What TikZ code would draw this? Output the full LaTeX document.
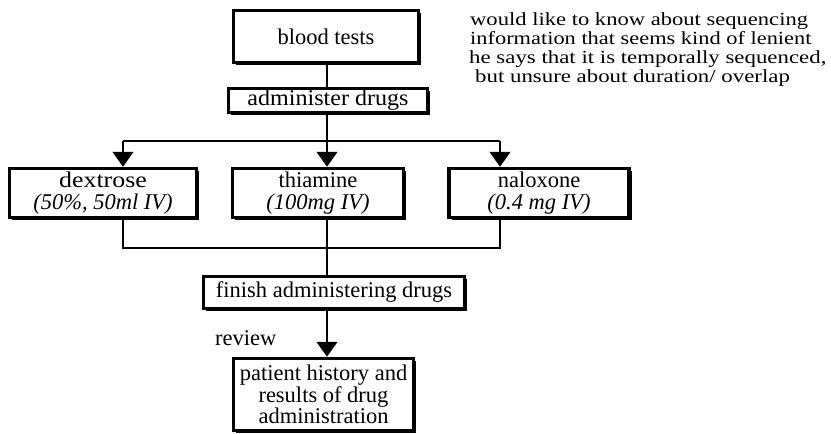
\documentclass[tikz,border=0pt]{standalone}
\usepackage{fontspec}
\usepackage{graphicx}
\setmainfont{Liberation Serif}
\usetikzlibrary{arrows.meta,shadows}
\begin{document}
\begin{tikzpicture}[x=1pt,y=-1pt,
  box/.style={draw,line width=3.5pt,fill=white,inner sep=0pt,align=center,
    font=\fontsize{22.5}{21.5}\selectfont,
    drop shadow={shadow xshift=2.5pt,shadow yshift=-2.5pt,fill=black,opacity=1}},
  conn/.style={line width=1.4pt},
  arr/.style={conn,-{Triangle[width=21pt,length=15pt]}},
  note/.style={anchor=base west,inner sep=0pt,font=\fontsize{18.5}{19}\selectfont},
]
\useasboundingbox (0,0) rectangle (831,434);
% boxes
\node[box,minimum width=185pt,minimum height=52pt] (blood) at (326,36.5) {blood tests};
\node[box,minimum width=199pt,minimum height=24pt] (admin) at (328,100.5) {\scalebox{1.07}[1]{administer drugs}};
\node[box,minimum width=187pt,minimum height=49pt] (dex) at (103,193) {\scalebox{1.15}[1]{dextrose}\\\textit{(50\%, 50ml IV)}};
\node[box,minimum width=171pt,minimum height=49pt] (thi) at (318,193) {thiamine\\\textit{(100mg IV)}};
\node[box,minimum width=180pt,minimum height=49pt] (nal) at (539,193) {naloxone\\\textit{(0.4 mg IV)}};
\node[box,minimum width=261pt,minimum height=32pt] (fin) at (334,292.5) {finish administering drugs};
\node[box,minimum width=180pt,minimum height=72pt] (pat) at (323.5,394.5) {patient history and\\results of drug\\administration};
% labels
\node[anchor=base west,inner sep=0pt,font=\fontsize{22.5}{21.5}\selectfont] (rev) at (215,345) {review};
\node[note] (n1) at (470,25) {\scalebox{1.22}[1]{would like to know about sequencing}};
\node[note] (n2) at (470,44) {\scalebox{1.21}[1]{information that seems kind of lenient}};
\node[note] (n3) at (469,63) {\scalebox{1.235}[1]{he says that it is temporally sequenced,}};
\node[note] (n4) at (475,82) {\scalebox{1.235}[1]{but unsure about duration/ overlap}};
% connectors
\coordinate (sp) at (327,141);
\coordinate (la) at (123,141);
\coordinate (ra) at (500,141);
\coordinate (lb) at (123,248);
\coordinate (rb) at (500,248);
\draw[conn] (blood.south -| sp) -- (admin.north -| sp);
\draw[conn] (admin.south -| sp) -- (sp);
\draw[conn] (la) -- (ra);
\draw[arr] (la) -- (la |- dex.north);
\draw[arr] (sp) -- (sp |- thi.north);
\draw[arr] (ra) -- (ra |- nal.north);
\draw[conn] (la |- dex.south) -- (lb) -- (rb) -- (ra |- nal.south);
\draw[conn] (sp |- thi.south) -- (sp |- fin.north);
\draw[arr] (sp |- fin.south) -- (sp |- pat.north);
\end{tikzpicture}
\end{document}
